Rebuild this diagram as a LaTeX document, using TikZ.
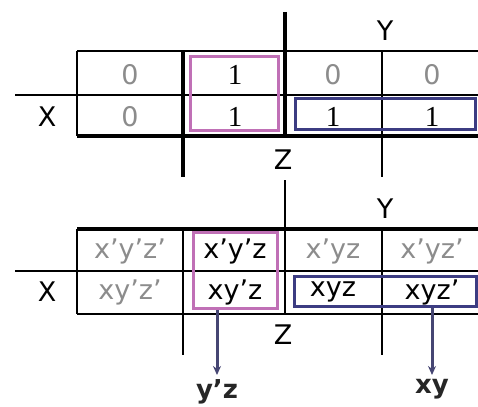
\documentclass[tikz,border=0pt]{standalone}
\usepackage{fontspec}
\setmainfont{DejaVu Sans}
\newfontfamily\onefont{Liberation Serif}
\usetikzlibrary{arrows.meta}
\definecolor{kpink}{RGB}{192,112,182}
\definecolor{kblue}{RGB}{60,60,130}
\definecolor{karrow}{RGB}{70,70,115}
\begin{document}
\begin{tikzpicture}[x=1pt, y=-1pt,
  every node/.style={font=\fontsize{27}{30}\selectfont, inner sep=0pt},
  dim/.style={text=black!45},
  one/.style={font=\fontsize{29}{30}\selectfont\onefont},
  answer/.style={font=\fontsize{26}{30}\selectfont\bfseries, text=black!85},
  thinline/.style={line width=1.3pt},
  thickline/.style={line width=3.2pt},
  pinkbox/.style={draw=kpink, line width=3pt},
  bluebox/.style={draw=kblue, line width=3pt},
  result/.style={draw=karrow, line width=3pt, shorten >=4pt, -{Stealth[length=9pt,width=8pt]}}]
\useasboundingbox (0,0) rectangle (478,406);
% top map
\draw[thinline] (77,51) -- (478,51);
\draw[thinline] (15,95) -- (478,95);
\draw[thickline] (77,136) -- (478,136);
\draw[thinline] (77,51) -- (77,136);
\draw[thickline] (183,51) -- (183,177);
\draw[thickline] (285,12) -- (285,136);
\draw[thinline] (382,51) -- (382,177);
\node (yA) at (385,31) {Y};
\node (zA) at (283,160) {Z};
\node (xA) at (47,117) {X};
\node[dim] (a1) at (130,75) {0};
\node[one] (a2) at (235,75) {1};
\node[dim] (a3) at (333,75) {0};
\node[dim] (a4) at (432,75) {0};
\node[dim] (b1) at (130,117) {0};
\node[one] (b2) at (235,117) {1};
\node[one] (b3) at (333,117) {1};
\node[one] (b4) at (432,117) {1};
\node[pinkbox, minimum width=88, minimum height=74] (pinkA) at (234,93.5) {};
\node[bluebox, minimum width=180, minimum height=31] (blueA) at (385.5,114) {};
% bottom map
\draw[thickline] (77,229) -- (478,229);
\draw[thinline] (15,271) -- (478,271);
\draw[thinline] (77,314) -- (478,314);
\draw[thinline] (77,229) -- (77,314);
\draw[thinline] (183,229) -- (183,355);
\draw[thinline] (285,180) -- (285,314);
\draw[thinline] (382,229) -- (382,355);
\node (yB) at (385,209) {Y};
\node (zB) at (283,335) {Z};
\node (xB) at (47,292) {X};
\node[dim] (c1) at (130,251) {x'y'z'};
\node (c2) at (235,251) {x'y'z};
\node[dim] (c3) at (333,251) {x'yz};
\node[dim] (c4) at (432,251) {x'yz'};
\node[dim] (d1) at (130,292) {xy'z'};
\node (d2) at (235,292) {xy'z};
\node (d3) at (333,292) {xyz};
\node (d4) at (432,292) {xyz'};
\node[pinkbox, minimum width=84, minimum height=76] (pinkB) at (235,270.5) {};
\node[bluebox, minimum width=182, minimum height=30] (blueB) at (385.5,291.5) {};
\node[answer, anchor=north] (lyz) at (217,379) {y'z};
\node[answer, anchor=north] (lxy) at (432,379) {xy};
\draw[result] (pinkB.south -| lyz.north) -- (lyz.north);
\draw[result] (blueB.south -| lxy.north) -- (lxy.north);
\end{tikzpicture}
\end{document}
